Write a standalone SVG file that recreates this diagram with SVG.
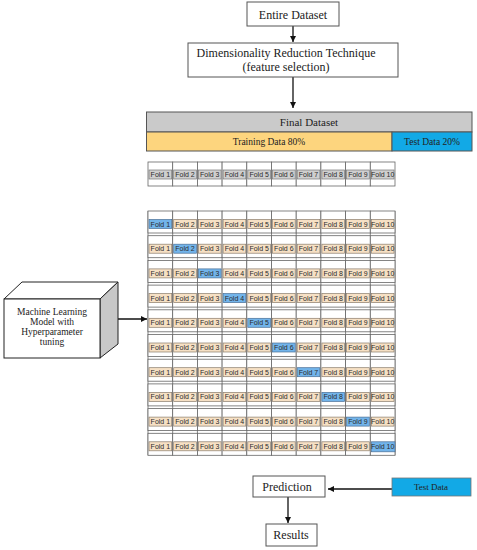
<svg xmlns="http://www.w3.org/2000/svg" xmlns:xlink="http://www.w3.org/1999/xlink" width="477" height="550" viewBox="0 0 477 550">
<style>
.box{fill:#fff;stroke:#555;stroke-width:1}
.t{font-family:"Liberation Serif","Times New Roman",serif;fill:#222;text-anchor:middle}
.cell{fill:#fff;stroke:#666;stroke-width:0.8}
.lt{fill:#f6e0c4;stroke:#8a7c6c;stroke-width:0.7}
.lb{fill:#72b4ea;stroke:#4a6f96;stroke-width:0.7}
.lg{fill:#cfcfcf;stroke:#777;stroke-width:0.7}
.f{font-family:"Liberation Sans",Arial,sans-serif;font-size:7px;fill:#2a2a2a;text-anchor:middle}
.ln{stroke:#111;stroke-width:1.3;fill:none}
</style>
<defs>
<marker id="ah" viewBox="0 0 10 10" refX="10" refY="5" markerWidth="6" markerHeight="6" orient="auto" markerUnits="userSpaceOnUse">
<path d="M0,0L10,5L0,10z" fill="#111"/>
</marker>
<rect id="c" width="24.7" height="22" class="cell"/>
<rect id="ct" width="24.7" height="24" class="cell"/>
</defs>

<g id="connectors">
<line class="ln" x1="293" y1="26" x2="293" y2="42" marker-end="url(#ah)"/>
<line class="ln" x1="293" y1="77" x2="293" y2="108" marker-end="url(#ah)"/>
<line class="ln" x1="110" y1="319" x2="147" y2="319" marker-end="url(#ah)"/>
<line class="ln" x1="392" y1="489" x2="328" y2="489" marker-end="url(#ah)"/>
<line class="ln" x1="288" y1="497" x2="288" y2="523" marker-end="url(#ah)"/>
</g>

<g id="entire-dataset">
<rect class="box" x="247" y="2" width="92" height="24"/>
<text class="t" x="293" y="18.5" font-size="12">Entire Dataset</text>
</g>

<g id="dim-reduction">
<rect class="box" x="188" y="43" width="210" height="34"/>
<text class="t" x="286" y="57" font-size="12">Dimensionality Reduction Technique</text>
<text class="t" x="286" y="71" font-size="12">(feature selection)</text>
</g>

<g id="final-dataset">
<rect x="146.5" y="112" width="325.5" height="20" fill="#cacaca" stroke="#555" stroke-width="1"/>
<text class="t" x="309" y="126" font-size="11">Final Dataset</text>
<rect x="146.5" y="132" width="245.5" height="19" fill="#fdd57e" stroke="#555" stroke-width="1"/>
<text class="t" x="269" y="145" font-size="9.5">Training Data 80%</text>
<rect x="392" y="132" width="80" height="19" fill="#12a9e6" stroke="#555" stroke-width="1"/>
<text class="t" x="432" y="145" font-size="9.5">Test Data 20%</text>
</g>

<g id="folds-top" transform="translate(0,162)">
<use href="#ct" x="148"/><use href="#ct" x="172.7"/><use href="#ct" x="197.4"/><use href="#ct" x="222.1"/><use href="#ct" x="246.8"/><use href="#ct" x="271.5"/><use href="#ct" x="296.2"/><use href="#ct" x="320.9"/><use href="#ct" x="345.6"/><use href="#ct" x="370.3"/>
<rect class="lg" x="149" y="8" width="22.7" height="9"/><rect class="lg" x="173.7" y="8" width="22.7" height="9"/><rect class="lg" x="198.4" y="8" width="22.7" height="9"/><rect class="lg" x="223.1" y="8" width="22.7" height="9"/><rect class="lg" x="247.8" y="8" width="22.7" height="9"/><rect class="lg" x="272.5" y="8" width="22.7" height="9"/><rect class="lg" x="297.2" y="8" width="22.7" height="9"/><rect class="lg" x="321.9" y="8" width="22.7" height="9"/><rect class="lg" x="346.6" y="8" width="22.7" height="9"/><rect class="lg" x="371.3" y="8" width="22.7" height="9"/>
<text class="f" y="15"><tspan x="160.35">Fold 1</tspan><tspan x="185.05">Fold 2</tspan><tspan x="209.75">Fold 3</tspan><tspan x="234.45">Fold 4</tspan><tspan x="259.15">Fold 5</tspan><tspan x="283.85">Fold 6</tspan><tspan x="308.55">Fold 7</tspan><tspan x="333.25">Fold 8</tspan><tspan x="357.95">Fold 9</tspan><tspan x="382.65">Fold 10</tspan></text>
</g>

<g id="cv-grid-lines" stroke="#666" stroke-width="0.8">
<line x1="148" y1="211" x2="148" y2="455.3"/><line x1="172.7" y1="211" x2="172.7" y2="455.3"/><line x1="197.4" y1="211" x2="197.4" y2="455.3"/><line x1="222.1" y1="211" x2="222.1" y2="455.3"/><line x1="246.8" y1="211" x2="246.8" y2="455.3"/><line x1="271.5" y1="211" x2="271.5" y2="455.3"/><line x1="296.2" y1="211" x2="296.2" y2="455.3"/><line x1="320.9" y1="211" x2="320.9" y2="455.3"/><line x1="345.6" y1="211" x2="345.6" y2="455.3"/><line x1="370.3" y1="211" x2="370.3" y2="455.3"/><line x1="395" y1="211" x2="395" y2="455.3"/>
</g>

<g id="cv-row-1" transform="translate(0,211)">
<use href="#c" x="148"/><use href="#c" x="172.7"/><use href="#c" x="197.4"/><use href="#c" x="222.1"/><use href="#c" x="246.8"/><use href="#c" x="271.5"/><use href="#c" x="296.2"/><use href="#c" x="320.9"/><use href="#c" x="345.6"/><use href="#c" x="370.3"/>
<rect class="lb" x="149" y="8.5" width="22.7" height="9"/><rect class="lt" x="173.7" y="8.5" width="22.7" height="9"/><rect class="lt" x="198.4" y="8.5" width="22.7" height="9"/><rect class="lt" x="223.1" y="8.5" width="22.7" height="9"/><rect class="lt" x="247.8" y="8.5" width="22.7" height="9"/><rect class="lt" x="272.5" y="8.5" width="22.7" height="9"/><rect class="lt" x="297.2" y="8.5" width="22.7" height="9"/><rect class="lt" x="321.9" y="8.5" width="22.7" height="9"/><rect class="lt" x="346.6" y="8.5" width="22.7" height="9"/><rect class="lt" x="371.3" y="8.5" width="22.7" height="9"/>
<text class="f" y="15.5"><tspan x="160.35">Fold 1</tspan><tspan x="185.05">Fold 2</tspan><tspan x="209.75">Fold 3</tspan><tspan x="234.45">Fold 4</tspan><tspan x="259.15">Fold 5</tspan><tspan x="283.85">Fold 6</tspan><tspan x="308.55">Fold 7</tspan><tspan x="333.25">Fold 8</tspan><tspan x="357.95">Fold 9</tspan><tspan x="382.65">Fold 10</tspan></text>
</g>

<g id="cv-row-2" transform="translate(0,235.7)">
<use href="#c" x="148"/><use href="#c" x="172.7"/><use href="#c" x="197.4"/><use href="#c" x="222.1"/><use href="#c" x="246.8"/><use href="#c" x="271.5"/><use href="#c" x="296.2"/><use href="#c" x="320.9"/><use href="#c" x="345.6"/><use href="#c" x="370.3"/>
<rect class="lt" x="149" y="8.5" width="22.7" height="9"/><rect class="lb" x="173.7" y="8.5" width="22.7" height="9"/><rect class="lt" x="198.4" y="8.5" width="22.7" height="9"/><rect class="lt" x="223.1" y="8.5" width="22.7" height="9"/><rect class="lt" x="247.8" y="8.5" width="22.7" height="9"/><rect class="lt" x="272.5" y="8.5" width="22.7" height="9"/><rect class="lt" x="297.2" y="8.5" width="22.7" height="9"/><rect class="lt" x="321.9" y="8.5" width="22.7" height="9"/><rect class="lt" x="346.6" y="8.5" width="22.7" height="9"/><rect class="lt" x="371.3" y="8.5" width="22.7" height="9"/>
<text class="f" y="15.5"><tspan x="160.35">Fold 1</tspan><tspan x="185.05">Fold 2</tspan><tspan x="209.75">Fold 3</tspan><tspan x="234.45">Fold 4</tspan><tspan x="259.15">Fold 5</tspan><tspan x="283.85">Fold 6</tspan><tspan x="308.55">Fold 7</tspan><tspan x="333.25">Fold 8</tspan><tspan x="357.95">Fold 9</tspan><tspan x="382.65">Fold 10</tspan></text>
</g>

<g id="cv-row-3" transform="translate(0,260.4)">
<use href="#c" x="148"/><use href="#c" x="172.7"/><use href="#c" x="197.4"/><use href="#c" x="222.1"/><use href="#c" x="246.8"/><use href="#c" x="271.5"/><use href="#c" x="296.2"/><use href="#c" x="320.9"/><use href="#c" x="345.6"/><use href="#c" x="370.3"/>
<rect class="lt" x="149" y="8.5" width="22.7" height="9"/><rect class="lt" x="173.7" y="8.5" width="22.7" height="9"/><rect class="lb" x="198.4" y="8.5" width="22.7" height="9"/><rect class="lt" x="223.1" y="8.5" width="22.7" height="9"/><rect class="lt" x="247.8" y="8.5" width="22.7" height="9"/><rect class="lt" x="272.5" y="8.5" width="22.7" height="9"/><rect class="lt" x="297.2" y="8.5" width="22.7" height="9"/><rect class="lt" x="321.9" y="8.5" width="22.7" height="9"/><rect class="lt" x="346.6" y="8.5" width="22.7" height="9"/><rect class="lt" x="371.3" y="8.5" width="22.7" height="9"/>
<text class="f" y="15.5"><tspan x="160.35">Fold 1</tspan><tspan x="185.05">Fold 2</tspan><tspan x="209.75">Fold 3</tspan><tspan x="234.45">Fold 4</tspan><tspan x="259.15">Fold 5</tspan><tspan x="283.85">Fold 6</tspan><tspan x="308.55">Fold 7</tspan><tspan x="333.25">Fold 8</tspan><tspan x="357.95">Fold 9</tspan><tspan x="382.65">Fold 10</tspan></text>
</g>

<g id="cv-row-4" transform="translate(0,285.1)">
<use href="#c" x="148"/><use href="#c" x="172.7"/><use href="#c" x="197.4"/><use href="#c" x="222.1"/><use href="#c" x="246.8"/><use href="#c" x="271.5"/><use href="#c" x="296.2"/><use href="#c" x="320.9"/><use href="#c" x="345.6"/><use href="#c" x="370.3"/>
<rect class="lt" x="149" y="8.5" width="22.7" height="9"/><rect class="lt" x="173.7" y="8.5" width="22.7" height="9"/><rect class="lt" x="198.4" y="8.5" width="22.7" height="9"/><rect class="lb" x="223.1" y="8.5" width="22.7" height="9"/><rect class="lt" x="247.8" y="8.5" width="22.7" height="9"/><rect class="lt" x="272.5" y="8.5" width="22.7" height="9"/><rect class="lt" x="297.2" y="8.5" width="22.7" height="9"/><rect class="lt" x="321.9" y="8.5" width="22.7" height="9"/><rect class="lt" x="346.6" y="8.5" width="22.7" height="9"/><rect class="lt" x="371.3" y="8.5" width="22.7" height="9"/>
<text class="f" y="15.5"><tspan x="160.35">Fold 1</tspan><tspan x="185.05">Fold 2</tspan><tspan x="209.75">Fold 3</tspan><tspan x="234.45">Fold 4</tspan><tspan x="259.15">Fold 5</tspan><tspan x="283.85">Fold 6</tspan><tspan x="308.55">Fold 7</tspan><tspan x="333.25">Fold 8</tspan><tspan x="357.95">Fold 9</tspan><tspan x="382.65">Fold 10</tspan></text>
</g>

<g id="cv-row-5" transform="translate(0,309.8)">
<use href="#c" x="148"/><use href="#c" x="172.7"/><use href="#c" x="197.4"/><use href="#c" x="222.1"/><use href="#c" x="246.8"/><use href="#c" x="271.5"/><use href="#c" x="296.2"/><use href="#c" x="320.9"/><use href="#c" x="345.6"/><use href="#c" x="370.3"/>
<rect class="lt" x="149" y="8.5" width="22.7" height="9"/><rect class="lt" x="173.7" y="8.5" width="22.7" height="9"/><rect class="lt" x="198.4" y="8.5" width="22.7" height="9"/><rect class="lt" x="223.1" y="8.5" width="22.7" height="9"/><rect class="lb" x="247.8" y="8.5" width="22.7" height="9"/><rect class="lt" x="272.5" y="8.5" width="22.7" height="9"/><rect class="lt" x="297.2" y="8.5" width="22.7" height="9"/><rect class="lt" x="321.9" y="8.5" width="22.7" height="9"/><rect class="lt" x="346.6" y="8.5" width="22.7" height="9"/><rect class="lt" x="371.3" y="8.5" width="22.7" height="9"/>
<text class="f" y="15.5"><tspan x="160.35">Fold 1</tspan><tspan x="185.05">Fold 2</tspan><tspan x="209.75">Fold 3</tspan><tspan x="234.45">Fold 4</tspan><tspan x="259.15">Fold 5</tspan><tspan x="283.85">Fold 6</tspan><tspan x="308.55">Fold 7</tspan><tspan x="333.25">Fold 8</tspan><tspan x="357.95">Fold 9</tspan><tspan x="382.65">Fold 10</tspan></text>
</g>

<g id="cv-row-6" transform="translate(0,334.5)">
<use href="#c" x="148"/><use href="#c" x="172.7"/><use href="#c" x="197.4"/><use href="#c" x="222.1"/><use href="#c" x="246.8"/><use href="#c" x="271.5"/><use href="#c" x="296.2"/><use href="#c" x="320.9"/><use href="#c" x="345.6"/><use href="#c" x="370.3"/>
<rect class="lt" x="149" y="8.5" width="22.7" height="9"/><rect class="lt" x="173.7" y="8.5" width="22.7" height="9"/><rect class="lt" x="198.4" y="8.5" width="22.7" height="9"/><rect class="lt" x="223.1" y="8.5" width="22.7" height="9"/><rect class="lt" x="247.8" y="8.5" width="22.7" height="9"/><rect class="lb" x="272.5" y="8.5" width="22.7" height="9"/><rect class="lt" x="297.2" y="8.5" width="22.7" height="9"/><rect class="lt" x="321.9" y="8.5" width="22.7" height="9"/><rect class="lt" x="346.6" y="8.5" width="22.7" height="9"/><rect class="lt" x="371.3" y="8.5" width="22.7" height="9"/>
<text class="f" y="15.5"><tspan x="160.35">Fold 1</tspan><tspan x="185.05">Fold 2</tspan><tspan x="209.75">Fold 3</tspan><tspan x="234.45">Fold 4</tspan><tspan x="259.15">Fold 5</tspan><tspan x="283.85">Fold 6</tspan><tspan x="308.55">Fold 7</tspan><tspan x="333.25">Fold 8</tspan><tspan x="357.95">Fold 9</tspan><tspan x="382.65">Fold 10</tspan></text>
</g>

<g id="cv-row-7" transform="translate(0,359.2)">
<use href="#c" x="148"/><use href="#c" x="172.7"/><use href="#c" x="197.4"/><use href="#c" x="222.1"/><use href="#c" x="246.8"/><use href="#c" x="271.5"/><use href="#c" x="296.2"/><use href="#c" x="320.9"/><use href="#c" x="345.6"/><use href="#c" x="370.3"/>
<rect class="lt" x="149" y="8.5" width="22.7" height="9"/><rect class="lt" x="173.7" y="8.5" width="22.7" height="9"/><rect class="lt" x="198.4" y="8.5" width="22.7" height="9"/><rect class="lt" x="223.1" y="8.5" width="22.7" height="9"/><rect class="lt" x="247.8" y="8.5" width="22.7" height="9"/><rect class="lt" x="272.5" y="8.5" width="22.7" height="9"/><rect class="lb" x="297.2" y="8.5" width="22.7" height="9"/><rect class="lt" x="321.9" y="8.5" width="22.7" height="9"/><rect class="lt" x="346.6" y="8.5" width="22.7" height="9"/><rect class="lt" x="371.3" y="8.5" width="22.7" height="9"/>
<text class="f" y="15.5"><tspan x="160.35">Fold 1</tspan><tspan x="185.05">Fold 2</tspan><tspan x="209.75">Fold 3</tspan><tspan x="234.45">Fold 4</tspan><tspan x="259.15">Fold 5</tspan><tspan x="283.85">Fold 6</tspan><tspan x="308.55">Fold 7</tspan><tspan x="333.25">Fold 8</tspan><tspan x="357.95">Fold 9</tspan><tspan x="382.65">Fold 10</tspan></text>
</g>

<g id="cv-row-8" transform="translate(0,383.9)">
<use href="#c" x="148"/><use href="#c" x="172.7"/><use href="#c" x="197.4"/><use href="#c" x="222.1"/><use href="#c" x="246.8"/><use href="#c" x="271.5"/><use href="#c" x="296.2"/><use href="#c" x="320.9"/><use href="#c" x="345.6"/><use href="#c" x="370.3"/>
<rect class="lt" x="149" y="8.5" width="22.7" height="9"/><rect class="lt" x="173.7" y="8.5" width="22.7" height="9"/><rect class="lt" x="198.4" y="8.5" width="22.7" height="9"/><rect class="lt" x="223.1" y="8.5" width="22.7" height="9"/><rect class="lt" x="247.8" y="8.5" width="22.7" height="9"/><rect class="lt" x="272.5" y="8.5" width="22.7" height="9"/><rect class="lt" x="297.2" y="8.5" width="22.7" height="9"/><rect class="lb" x="321.9" y="8.5" width="22.7" height="9"/><rect class="lt" x="346.6" y="8.5" width="22.7" height="9"/><rect class="lt" x="371.3" y="8.5" width="22.7" height="9"/>
<text class="f" y="15.5"><tspan x="160.35">Fold 1</tspan><tspan x="185.05">Fold 2</tspan><tspan x="209.75">Fold 3</tspan><tspan x="234.45">Fold 4</tspan><tspan x="259.15">Fold 5</tspan><tspan x="283.85">Fold 6</tspan><tspan x="308.55">Fold 7</tspan><tspan x="333.25">Fold 8</tspan><tspan x="357.95">Fold 9</tspan><tspan x="382.65">Fold 10</tspan></text>
</g>

<g id="cv-row-9" transform="translate(0,408.6)">
<use href="#c" x="148"/><use href="#c" x="172.7"/><use href="#c" x="197.4"/><use href="#c" x="222.1"/><use href="#c" x="246.8"/><use href="#c" x="271.5"/><use href="#c" x="296.2"/><use href="#c" x="320.9"/><use href="#c" x="345.6"/><use href="#c" x="370.3"/>
<rect class="lt" x="149" y="8.5" width="22.7" height="9"/><rect class="lt" x="173.7" y="8.5" width="22.7" height="9"/><rect class="lt" x="198.4" y="8.5" width="22.7" height="9"/><rect class="lt" x="223.1" y="8.5" width="22.7" height="9"/><rect class="lt" x="247.8" y="8.5" width="22.7" height="9"/><rect class="lt" x="272.5" y="8.5" width="22.7" height="9"/><rect class="lt" x="297.2" y="8.5" width="22.7" height="9"/><rect class="lt" x="321.9" y="8.5" width="22.7" height="9"/><rect class="lb" x="346.6" y="8.5" width="22.7" height="9"/><rect class="lt" x="371.3" y="8.5" width="22.7" height="9"/>
<text class="f" y="15.5"><tspan x="160.35">Fold 1</tspan><tspan x="185.05">Fold 2</tspan><tspan x="209.75">Fold 3</tspan><tspan x="234.45">Fold 4</tspan><tspan x="259.15">Fold 5</tspan><tspan x="283.85">Fold 6</tspan><tspan x="308.55">Fold 7</tspan><tspan x="333.25">Fold 8</tspan><tspan x="357.95">Fold 9</tspan><tspan x="382.65">Fold 10</tspan></text>
</g>

<g id="cv-row-10" transform="translate(0,433.3)">
<use href="#c" x="148"/><use href="#c" x="172.7"/><use href="#c" x="197.4"/><use href="#c" x="222.1"/><use href="#c" x="246.8"/><use href="#c" x="271.5"/><use href="#c" x="296.2"/><use href="#c" x="320.9"/><use href="#c" x="345.6"/><use href="#c" x="370.3"/>
<rect class="lt" x="149" y="8.5" width="22.7" height="9"/><rect class="lt" x="173.7" y="8.5" width="22.7" height="9"/><rect class="lt" x="198.4" y="8.5" width="22.7" height="9"/><rect class="lt" x="223.1" y="8.5" width="22.7" height="9"/><rect class="lt" x="247.8" y="8.5" width="22.7" height="9"/><rect class="lt" x="272.5" y="8.5" width="22.7" height="9"/><rect class="lt" x="297.2" y="8.5" width="22.7" height="9"/><rect class="lt" x="321.9" y="8.5" width="22.7" height="9"/><rect class="lt" x="346.6" y="8.5" width="22.7" height="9"/><rect class="lb" x="371.3" y="8.5" width="23.7" height="10"/>
<text class="f" y="15.5"><tspan x="160.35">Fold 1</tspan><tspan x="185.05">Fold 2</tspan><tspan x="209.75">Fold 3</tspan><tspan x="234.45">Fold 4</tspan><tspan x="259.15">Fold 5</tspan><tspan x="283.85">Fold 6</tspan><tspan x="308.55">Fold 7</tspan><tspan x="333.25">Fold 8</tspan><tspan x="357.95">Fold 9</tspan><tspan x="382.65">Fold 10</tspan></text>
</g>

<g id="ml-model">
<path d="M4,299L22,282L118,282L100,299Z" fill="#fff" stroke="#222" stroke-width="1"/>
<path d="M100,299L118,282L118,344L100,358Z" fill="#c8c8c8" stroke="#222" stroke-width="1"/>
<rect x="4" y="299" width="96" height="59" fill="#fff" stroke="#222" stroke-width="1"/>
<text class="t" x="52" y="315" font-size="9.5">Machine Learning</text>
<text class="t" x="52" y="325" font-size="9.5">Model with</text>
<text class="t" x="52" y="335" font-size="9.5">Hyperparameter</text>
<text class="t" x="52" y="345" font-size="9.5">tuning</text>
</g>

<g id="prediction">
<rect class="box" x="253" y="476" width="72" height="21"/>
<text class="t" x="287" y="491" font-size="12">Prediction</text>
</g>

<g id="test-data">
<rect x="392" y="478" width="79" height="18" fill="#12a9e6" stroke="#777" stroke-width="0.8"/>
<text class="t" x="431" y="490" font-size="9">Test Data</text>
</g>

<g id="results">
<rect class="box" x="266" y="524" width="51" height="22"/>
<text class="t" x="291" y="539" font-size="12">Results</text>
</g>
</svg>
